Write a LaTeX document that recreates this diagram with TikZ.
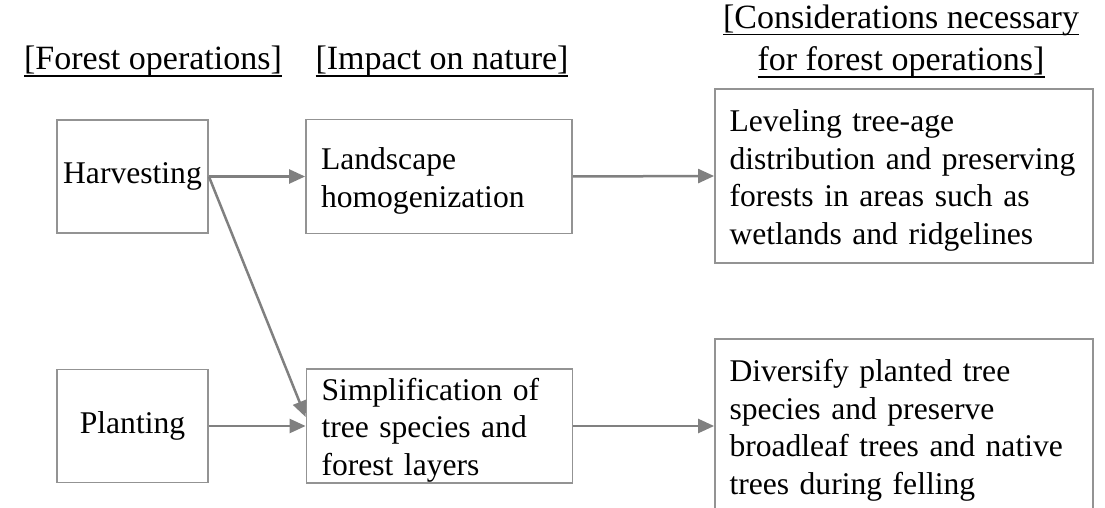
\documentclass[tikz,border=0pt]{standalone}
\usepackage{fontspec}
\setmainfont{Liberation Serif}
\usepackage{tikz}
\usetikzlibrary{arrows.meta}
\tikzstyle{box} = [draw=gray!85, line width=0.9pt, inner ysep=2pt, font=\fontsize{15.8}{18.9}\selectfont]
\tikzstyle{opbox} = [box, inner xsep=3pt, align=center, minimum width=75.5pt, minimum height=56.5pt]
\tikzstyle{textbox} = [box, inner ysep=0pt, align=left, execute at begin node={\rule{0pt}{15.4pt}}]
\tikzstyle{impbox} = [textbox, inner xsep=7.5pt, text width=118pt, minimum height=57pt]
\tikzstyle{needbox} = [textbox, inner xsep=7.25pt, text width=174.5pt, minimum height=87pt]
\tikzstyle{headline} = [inner sep=0pt, anchor=base, font=\fontsize{17}{21}\selectfont]
\tikzstyle{arr} = [-{Triangle[length=8pt,width=7pt]}, draw=gray, line width=1.25pt]
\newcommand{\ulhead}[1]{\setbox0=\hbox{#1}\rlap{\rule[-3.5pt]{\wd0}{0.8pt}}\box0}

\begin{document}
\begin{tikzpicture}[x=0.5pt, y=-0.5pt]
\useasboundingbox (0,0) rectangle (1105,508);
% column heads
\node[headline] (hforest) at (153,70) {\ulhead{[Forest operations]}};
\node[headline] (himpact) at (442,70) {\ulhead{[Impact on nature]}};
\node[headline] (hneedA) at (901,28.5) {\ulhead{[Considerations necessary}};
\node[headline] (hneedB) at (901,71) {\ulhead{for forest operations]}};
% boxes
\node[opbox] (harv) at (132.5,176.5) {Harvesting};
\node[opbox] (plant) at (132.5,426) {Planting};
\node[impbox] (land) at (439,176.5) {Landscape\\homogenization};
\node[impbox] (simp) at (439.5,426) {Simplification of\\tree species and\\forest layers};
\node[needbox] (level) at (904,176) {Leveling tree-age\\distribution and preserving\\forests in areas such as\\wetlands and ridgelines};
\node[needbox] (divers) at (904,426) {Diversify planted tree\\species and preserve\\broadleaf trees and native\\trees during felling};
% arrows
\draw [arr] (harv.east) -- (land.west);
\draw [arr] (harv.east) -- ([yshift=4.5pt]simp.west);
\draw [arr] (plant.east) -- (simp.west);
\draw [arr] (land.east) -- (level.west);
\draw [arr] (simp.east) -- (divers.west);
\end{tikzpicture}
\end{document}
